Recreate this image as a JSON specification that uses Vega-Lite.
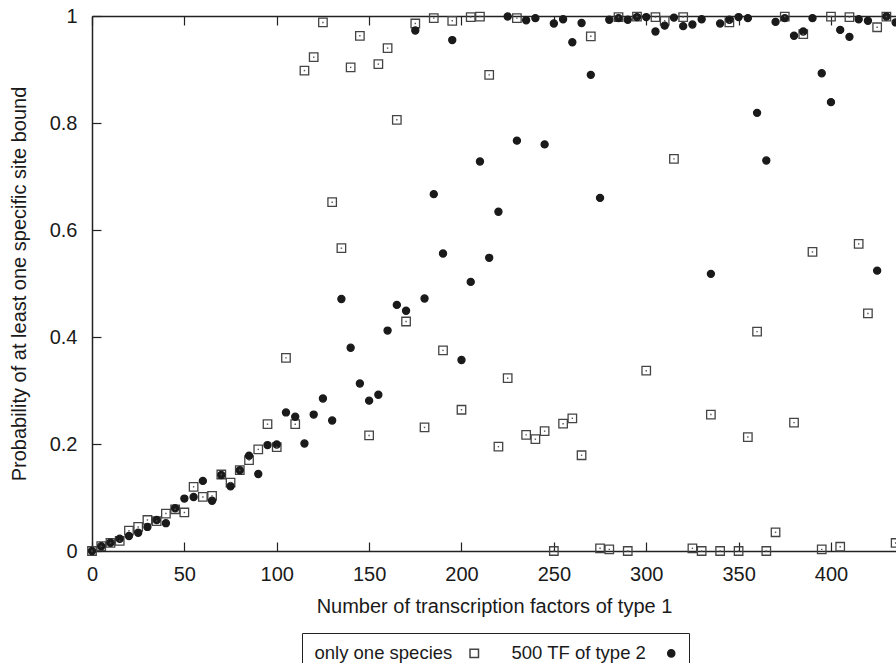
{
  "$schema": "https://vega.github.io/schema/vega-lite/v6.json",
  "width": 804,
  "height": 535,
  "autosize": {"type": "none"},
  "padding": {"left": 92, "top": 16, "right": 0, "bottom": 112},
  "background": "white",
  "config": {
    "view": {"stroke": null},
    "font": "Liberation Sans",
    "axis": {
      "grid": false,
      "domainColor": "#222",
      "domainWidth": 1.5,
      "tickColor": "#222",
      "tickWidth": 1.2,
      "tickSize": -9,
      "labelFont": "Liberation Sans",
      "labelFontSize": 20,
      "labelColor": "#1a1a1a",
      "titleFont": "Liberation Sans",
      "titleFontSize": 20,
      "titleFontWeight": "normal",
      "titleColor": "#1a1a1a"
    },
    "legend": {
      "orient": "none",
      "legendX": 210,
      "legendY": 617,
      "direction": "horizontal",
      "strokeColor": "#222",
      "padding": 11,
      "labelFont": "Liberation Sans",
      "labelFontSize": 18.5,
      "labelColor": "#1a1a1a",
      "labelAlign": "left",
      "labelOffset": -169,
      "symbolOffset": 152,
      "columnPadding": 28,
      "labelLimit": 400
    }
  },
  "data": {"values": [
    {"n":0,"p":0,"s":"only one species"},{"n":5,"p":0.009,"s":"only one species"},{"n":10,"p":0.015,"s":"only one species"},{"n":15,"p":0.019,"s":"only one species"},{"n":20,"p":0.038,"s":"only one species"},{"n":25,"p":0.045,"s":"only one species"},{"n":30,"p":0.058,"s":"only one species"},{"n":35,"p":0.056,"s":"only one species"},{"n":40,"p":0.07,"s":"only one species"},{"n":45,"p":0.078,"s":"only one species"},{"n":50,"p":0.072,"s":"only one species"},{"n":55,"p":0.12,"s":"only one species"},{"n":60,"p":0.101,"s":"only one species"},{"n":65,"p":0.103,"s":"only one species"},{"n":70,"p":0.143,"s":"only one species"},{"n":75,"p":0.128,"s":"only one species"},{"n":80,"p":0.151,"s":"only one species"},{"n":85,"p":0.17,"s":"only one species"},{"n":90,"p":0.19,"s":"only one species"},{"n":95,"p":0.237,"s":"only one species"},{"n":100,"p":0.194,"s":"only one species"},{"n":105,"p":0.361,"s":"only one species"},{"n":110,"p":0.237,"s":"only one species"},{"n":115,"p":0.898,"s":"only one species"},{"n":120,"p":0.923,"s":"only one species"},{"n":125,"p":0.988,"s":"only one species"},{"n":130,"p":0.652,"s":"only one species"},{"n":135,"p":0.566,"s":"only one species"},{"n":140,"p":0.904,"s":"only one species"},{"n":145,"p":0.963,"s":"only one species"},{"n":150,"p":0.216,"s":"only one species"},{"n":155,"p":0.91,"s":"only one species"},{"n":160,"p":0.94,"s":"only one species"},{"n":165,"p":0.806,"s":"only one species"},{"n":170,"p":0.429,"s":"only one species"},{"n":175,"p":0.986,"s":"only one species"},{"n":180,"p":0.231,"s":"only one species"},{"n":185,"p":0.996,"s":"only one species"},{"n":190,"p":0.375,"s":"only one species"},{"n":195,"p":0.991,"s":"only one species"},{"n":200,"p":0.264,"s":"only one species"},{"n":205,"p":0.998,"s":"only one species"},{"n":210,"p":0.999,"s":"only one species"},{"n":215,"p":0.89,"s":"only one species"},{"n":220,"p":0.195,"s":"only one species"},{"n":225,"p":0.323,"s":"only one species"},{"n":230,"p":0.996,"s":"only one species"},{"n":235,"p":0.217,"s":"only one species"},{"n":240,"p":0.209,"s":"only one species"},{"n":245,"p":0.224,"s":"only one species"},{"n":250,"p":0.0,"s":"only one species"},{"n":255,"p":0.238,"s":"only one species"},{"n":260,"p":0.248,"s":"only one species"},{"n":265,"p":0.179,"s":"only one species"},{"n":270,"p":0.962,"s":"only one species"},{"n":275,"p":0.005,"s":"only one species"},{"n":280,"p":0.003,"s":"only one species"},{"n":285,"p":0.998,"s":"only one species"},{"n":290,"p":0.0,"s":"only one species"},{"n":295,"p":0.999,"s":"only one species"},{"n":300,"p":0.337,"s":"only one species"},{"n":305,"p":0.998,"s":"only one species"},{"n":310,"p":0.991,"s":"only one species"},{"n":315,"p":0.733,"s":"only one species"},{"n":320,"p":0.998,"s":"only one species"},{"n":325,"p":0.005,"s":"only one species"},{"n":330,"p":0.0,"s":"only one species"},{"n":335,"p":0.255,"s":"only one species"},{"n":340,"p":0.0,"s":"only one species"},{"n":345,"p":0.988,"s":"only one species"},{"n":350,"p":0.0,"s":"only one species"},{"n":355,"p":0.213,"s":"only one species"},{"n":360,"p":0.41,"s":"only one species"},{"n":365,"p":0.0,"s":"only one species"},{"n":370,"p":0.035,"s":"only one species"},{"n":375,"p":0.999,"s":"only one species"},{"n":380,"p":0.24,"s":"only one species"},{"n":385,"p":0.966,"s":"only one species"},{"n":390,"p":0.559,"s":"only one species"},{"n":395,"p":0.003,"s":"only one species"},{"n":400,"p":0.999,"s":"only one species"},{"n":405,"p":0.008,"s":"only one species"},{"n":410,"p":0.998,"s":"only one species"},{"n":415,"p":0.574,"s":"only one species"},{"n":420,"p":0.444,"s":"only one species"},{"n":425,"p":0.979,"s":"only one species"},{"n":430,"p":0.999,"s":"only one species"},{"n":435,"p":0.015,"s":"only one species"},
    {"n":0,"p":0,"s":"500 TF of type 2"},{"n":5,"p":0.009,"s":"500 TF of type 2"},{"n":10,"p":0.0155,"s":"500 TF of type 2"},{"n":15,"p":0.023,"s":"500 TF of type 2"},{"n":20,"p":0.028,"s":"500 TF of type 2"},{"n":25,"p":0.034,"s":"500 TF of type 2"},{"n":30,"p":0.045,"s":"500 TF of type 2"},{"n":35,"p":0.058,"s":"500 TF of type 2"},{"n":40,"p":0.052,"s":"500 TF of type 2"},{"n":45,"p":0.08,"s":"500 TF of type 2"},{"n":50,"p":0.098,"s":"500 TF of type 2"},{"n":55,"p":0.101,"s":"500 TF of type 2"},{"n":60,"p":0.131,"s":"500 TF of type 2"},{"n":65,"p":0.094,"s":"500 TF of type 2"},{"n":70,"p":0.142,"s":"500 TF of type 2"},{"n":75,"p":0.121,"s":"500 TF of type 2"},{"n":80,"p":0.151,"s":"500 TF of type 2"},{"n":85,"p":0.178,"s":"500 TF of type 2"},{"n":90,"p":0.144,"s":"500 TF of type 2"},{"n":95,"p":0.198,"s":"500 TF of type 2"},{"n":100,"p":0.199,"s":"500 TF of type 2"},{"n":105,"p":0.259,"s":"500 TF of type 2"},{"n":110,"p":0.251,"s":"500 TF of type 2"},{"n":115,"p":0.201,"s":"500 TF of type 2"},{"n":120,"p":0.255,"s":"500 TF of type 2"},{"n":125,"p":0.285,"s":"500 TF of type 2"},{"n":130,"p":0.244,"s":"500 TF of type 2"},{"n":135,"p":0.471,"s":"500 TF of type 2"},{"n":140,"p":0.38,"s":"500 TF of type 2"},{"n":145,"p":0.313,"s":"500 TF of type 2"},{"n":150,"p":0.281,"s":"500 TF of type 2"},{"n":155,"p":0.292,"s":"500 TF of type 2"},{"n":160,"p":0.412,"s":"500 TF of type 2"},{"n":165,"p":0.46,"s":"500 TF of type 2"},{"n":170,"p":0.449,"s":"500 TF of type 2"},{"n":175,"p":0.973,"s":"500 TF of type 2"},{"n":180,"p":0.472,"s":"500 TF of type 2"},{"n":185,"p":0.667,"s":"500 TF of type 2"},{"n":190,"p":0.556,"s":"500 TF of type 2"},{"n":195,"p":0.955,"s":"500 TF of type 2"},{"n":200,"p":0.357,"s":"500 TF of type 2"},{"n":205,"p":0.503,"s":"500 TF of type 2"},{"n":210,"p":0.728,"s":"500 TF of type 2"},{"n":215,"p":0.548,"s":"500 TF of type 2"},{"n":220,"p":0.634,"s":"500 TF of type 2"},{"n":225,"p":0.999,"s":"500 TF of type 2"},{"n":230,"p":0.767,"s":"500 TF of type 2"},{"n":235,"p":0.992,"s":"500 TF of type 2"},{"n":240,"p":0.996,"s":"500 TF of type 2"},{"n":245,"p":0.76,"s":"500 TF of type 2"},{"n":250,"p":0.986,"s":"500 TF of type 2"},{"n":255,"p":0.994,"s":"500 TF of type 2"},{"n":260,"p":0.951,"s":"500 TF of type 2"},{"n":265,"p":0.987,"s":"500 TF of type 2"},{"n":270,"p":0.89,"s":"500 TF of type 2"},{"n":275,"p":0.66,"s":"500 TF of type 2"},{"n":280,"p":0.993,"s":"500 TF of type 2"},{"n":285,"p":0.996,"s":"500 TF of type 2"},{"n":290,"p":0.993,"s":"500 TF of type 2"},{"n":295,"p":0.998,"s":"500 TF of type 2"},{"n":300,"p":0.998,"s":"500 TF of type 2"},{"n":305,"p":0.971,"s":"500 TF of type 2"},{"n":310,"p":0.982,"s":"500 TF of type 2"},{"n":315,"p":0.997,"s":"500 TF of type 2"},{"n":320,"p":0.981,"s":"500 TF of type 2"},{"n":325,"p":0.984,"s":"500 TF of type 2"},{"n":330,"p":0.994,"s":"500 TF of type 2"},{"n":335,"p":0.518,"s":"500 TF of type 2"},{"n":340,"p":0.986,"s":"500 TF of type 2"},{"n":345,"p":0.993,"s":"500 TF of type 2"},{"n":350,"p":0.998,"s":"500 TF of type 2"},{"n":355,"p":0.996,"s":"500 TF of type 2"},{"n":360,"p":0.819,"s":"500 TF of type 2"},{"n":365,"p":0.73,"s":"500 TF of type 2"},{"n":370,"p":0.989,"s":"500 TF of type 2"},{"n":375,"p":0.996,"s":"500 TF of type 2"},{"n":380,"p":0.963,"s":"500 TF of type 2"},{"n":385,"p":0.971,"s":"500 TF of type 2"},{"n":390,"p":0.996,"s":"500 TF of type 2"},{"n":395,"p":0.893,"s":"500 TF of type 2"},{"n":400,"p":0.839,"s":"500 TF of type 2"},{"n":405,"p":0.974,"s":"500 TF of type 2"},{"n":410,"p":0.961,"s":"500 TF of type 2"},{"n":415,"p":0.994,"s":"500 TF of type 2"},{"n":420,"p":0.991,"s":"500 TF of type 2"},{"n":425,"p":0.524,"s":"500 TF of type 2"},{"n":430,"p":0.999,"s":"500 TF of type 2"},{"n":435,"p":0.988,"s":"500 TF of type 2"}
  ]},
  "resolve": {"axis": {"x": "independent"}},
  "layer": [
    {
      "mark": {"type": "point", "strokeWidth": 1.3, "opacity": 1, "filled": false},
      "encoding": {
        "x": {"field": "n", "type": "quantitative",
              "scale": {"domain": [0, 435.2], "nice": false, "zero": false},
              "axis": {"orient": "bottom", "values": [0,50,100,150,200,250,300,350,400], "labelPadding": 22, "labelFlush": false,
                       "title": "Number of transcription factors of type 1", "titlePadding": 12}},
        "y": {"field": "p", "type": "quantitative",
              "scale": {"domain": [0, 1], "nice": false},
              "axis": {"values": [0,0.2,0.4,0.6,0.8,1], "format": ".1~f", "labelPadding": 24, "labelFlush": false,
                       "title": "Probability of at least one specific site bound", "titlePadding": 20}},
        "shape": {"field": "s", "type": "nominal",
                  "scale": {"domain": ["only one species", "500 TF of type 2"], "range": ["square", "circle"]},
                  "legend": {"title": null}},
        "fill": {"field": "s", "type": "nominal",
                 "scale": {"domain": ["only one species", "500 TF of type 2"], "range": ["transparent", "#1a1a1a"]},
                 "legend": {"title": null}},
        "stroke": {"field": "s", "type": "nominal",
                   "scale": {"domain": ["only one species", "500 TF of type 2"], "range": ["#444444", "#1a1a1a"]},
                   "legend": {"title": null}},
        "size": {"field": "s", "type": "nominal",
                 "scale": {"domain": ["only one species", "500 TF of type 2"], "range": [72, 50]},
                 "legend": {"title": null}}
      }
    },
    {
      "transform": [{"filter": {"field": "s", "equal": "only one species"}}],
      "mark": {"type": "square", "size": 2, "color": "#555555", "opacity": 1},
      "encoding": {
        "x": {"field": "n", "type": "quantitative",
              "axis": {"orient": "top", "labels": false, "title": null, "values": [0,50,100,150,200,250,300,350,400]}},
        "y": {"field": "p", "type": "quantitative"}
      }
    }
  ]
}
